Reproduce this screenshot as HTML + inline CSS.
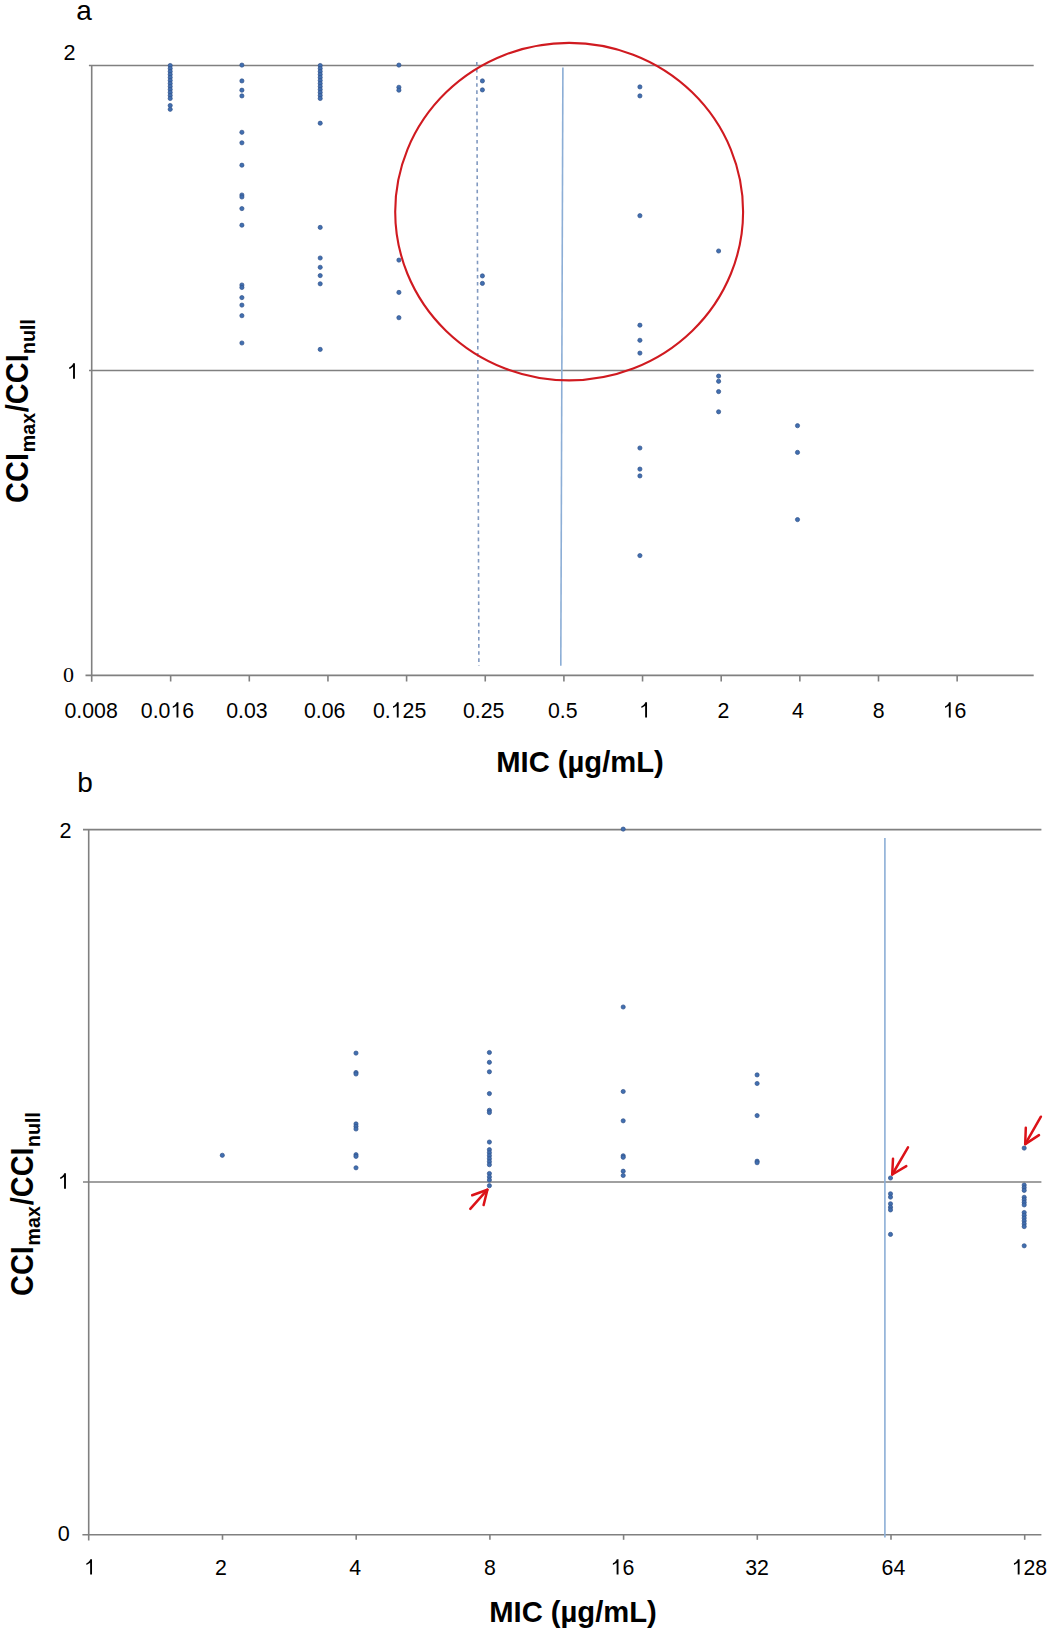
<!DOCTYPE html>
<html><head><meta charset="utf-8"><style>
html,body{margin:0;padding:0;background:#fff;}
body{width:1050px;height:1636px;overflow:hidden;}
svg{display:block;}
text{font-family:"Liberation Sans",sans-serif;fill:#000;}
</style></head><body>
<svg width="1050" height="1636" viewBox="0 0 1050 1636">
<rect width="1050" height="1636" fill="#fff"/>
<g stroke="#808080" stroke-width="1.6" fill="none">
<line x1="88.9" y1="65.5" x2="1033.7" y2="65.5"/>
<line x1="89" y1="370.5" x2="1033.7" y2="370.5"/>
<line x1="85.5" y1="675.4" x2="1033.7" y2="675.4"/>
<line x1="91.7" y1="65.5" x2="91.7" y2="681.7"/>
<line x1="170.65" y1="675.4" x2="170.65" y2="681.5"/>
<line x1="249.3" y1="675.4" x2="249.3" y2="681.5"/>
<line x1="327.95" y1="675.4" x2="327.95" y2="681.5"/>
<line x1="406.6" y1="675.4" x2="406.6" y2="681.5"/>
<line x1="485.25" y1="675.4" x2="485.25" y2="681.5"/>
<line x1="563.9" y1="675.4" x2="563.9" y2="681.5"/>
<line x1="642.55" y1="675.4" x2="642.55" y2="681.5"/>
<line x1="721.2" y1="675.4" x2="721.2" y2="681.5"/>
<line x1="799.85" y1="675.4" x2="799.85" y2="681.5"/>
<line x1="878.5" y1="675.4" x2="878.5" y2="681.5"/>
<line x1="957.15" y1="675.4" x2="957.15" y2="681.5"/>
<line x1="83" y1="829.6" x2="1041.4" y2="829.6"/>
<line x1="83" y1="1182" x2="1041.4" y2="1182"/>
<line x1="82.4" y1="1534.7" x2="1041.4" y2="1534.7"/>
<line x1="88.7" y1="829.6" x2="88.7" y2="1540.5"/>
<line x1="222.5" y1="1534.7" x2="222.5" y2="1539.8"/>
<line x1="356.2" y1="1534.7" x2="356.2" y2="1539.8"/>
<line x1="489.9" y1="1534.7" x2="489.9" y2="1539.8"/>
<line x1="623.6" y1="1534.7" x2="623.6" y2="1539.8"/>
<line x1="757.3" y1="1534.7" x2="757.3" y2="1539.8"/>
<line x1="891.0" y1="1534.7" x2="891.0" y2="1539.8"/>
<line x1="1024.7" y1="1534.7" x2="1024.7" y2="1539.8"/>
</g>
<g stroke="#8CAED6" stroke-width="1.6" fill="none">
<line x1="476.8" y1="61.9" x2="478.9" y2="666" stroke-dasharray="3.6 3.5" stroke="#8199C0"/>
<line x1="562.9" y1="67.6" x2="560.8" y2="665.7"/>
<line x1="884.9" y1="837.9" x2="884.9" y2="1537.5"/>
</g>
<g fill="#416FB0" stroke="#30518A" stroke-width="0.7">
<circle cx="170.2" cy="65.5" r="2.1"/>
<circle cx="170.2" cy="68.5" r="2.1"/>
<circle cx="170.2" cy="71.5" r="2.1"/>
<circle cx="170.2" cy="74.5" r="2.1"/>
<circle cx="170.2" cy="77.5" r="2.1"/>
<circle cx="170.2" cy="80.5" r="2.1"/>
<circle cx="170.2" cy="83.5" r="2.1"/>
<circle cx="170.2" cy="86.5" r="2.1"/>
<circle cx="170.2" cy="89.5" r="2.1"/>
<circle cx="170.2" cy="92.5" r="2.1"/>
<circle cx="170.2" cy="95.5" r="2.1"/>
<circle cx="170.2" cy="98.5" r="2.1"/>
<circle cx="170.2" cy="105.5" r="2.1"/>
<circle cx="170.2" cy="109.3" r="2.1"/>
<circle cx="241.9" cy="65.1" r="2.1"/>
<circle cx="241.9" cy="80.9" r="2.1"/>
<circle cx="241.9" cy="90.2" r="2.1"/>
<circle cx="241.9" cy="95.9" r="2.1"/>
<circle cx="241.9" cy="132.3" r="2.1"/>
<circle cx="241.9" cy="142.8" r="2.1"/>
<circle cx="241.9" cy="165.2" r="2.1"/>
<circle cx="241.9" cy="195" r="2.1"/>
<circle cx="241.9" cy="197" r="2.1"/>
<circle cx="241.9" cy="208.6" r="2.1"/>
<circle cx="241.9" cy="225.2" r="2.1"/>
<circle cx="241.9" cy="285" r="2.1"/>
<circle cx="241.9" cy="287.5" r="2.1"/>
<circle cx="241.9" cy="297.6" r="2.1"/>
<circle cx="241.9" cy="305.1" r="2.1"/>
<circle cx="241.9" cy="315.7" r="2.1"/>
<circle cx="241.9" cy="343" r="2.1"/>
<circle cx="320.2" cy="65.5" r="2.1"/>
<circle cx="320.2" cy="68.5" r="2.1"/>
<circle cx="320.2" cy="71.5" r="2.1"/>
<circle cx="320.2" cy="74.5" r="2.1"/>
<circle cx="320.2" cy="77.5" r="2.1"/>
<circle cx="320.2" cy="80.5" r="2.1"/>
<circle cx="320.2" cy="83.5" r="2.1"/>
<circle cx="320.2" cy="86.5" r="2.1"/>
<circle cx="320.2" cy="89.5" r="2.1"/>
<circle cx="320.2" cy="92.5" r="2.1"/>
<circle cx="320.2" cy="95.5" r="2.1"/>
<circle cx="320.2" cy="98.5" r="2.1"/>
<circle cx="320.2" cy="123.2" r="2.1"/>
<circle cx="320.2" cy="227.4" r="2.1"/>
<circle cx="320.2" cy="258" r="2.1"/>
<circle cx="320.2" cy="267.3" r="2.1"/>
<circle cx="320.2" cy="275.6" r="2.1"/>
<circle cx="320.2" cy="283.8" r="2.1"/>
<circle cx="320.2" cy="349.4" r="2.1"/>
<circle cx="398.9" cy="65.1" r="2.1"/>
<circle cx="398.9" cy="87.3" r="2.1"/>
<circle cx="398.9" cy="90.2" r="2.1"/>
<circle cx="398.9" cy="260.1" r="2.1"/>
<circle cx="398.9" cy="292.4" r="2.1"/>
<circle cx="398.9" cy="317.7" r="2.1"/>
<circle cx="482.4" cy="80.9" r="2.1"/>
<circle cx="482.4" cy="89.9" r="2.1"/>
<circle cx="482.4" cy="275.9" r="2.1"/>
<circle cx="482.4" cy="283.4" r="2.1"/>
<circle cx="639.9" cy="86.9" r="2.1"/>
<circle cx="639.9" cy="95.9" r="2.1"/>
<circle cx="639.9" cy="215.7" r="2.1"/>
<circle cx="639.9" cy="325.2" r="2.1"/>
<circle cx="639.9" cy="340.3" r="2.1"/>
<circle cx="639.9" cy="353.1" r="2.1"/>
<circle cx="639.9" cy="448" r="2.1"/>
<circle cx="639.9" cy="469.1" r="2.1"/>
<circle cx="639.9" cy="475.9" r="2.1"/>
<circle cx="639.9" cy="555.6" r="2.1"/>
<circle cx="718.6" cy="251" r="2.1"/>
<circle cx="718.6" cy="376.1" r="2.1"/>
<circle cx="718.6" cy="381.3" r="2.1"/>
<circle cx="718.6" cy="391.6" r="2.1"/>
<circle cx="718.6" cy="411.8" r="2.1"/>
<circle cx="797.5" cy="425.7" r="2.1"/>
<circle cx="797.5" cy="452.4" r="2.1"/>
<circle cx="797.5" cy="519.6" r="2.1"/>
<circle cx="222.3" cy="1155.3" r="2.1"/>
<circle cx="356.0" cy="1053.1" r="2.1"/>
<circle cx="356.0" cy="1072.5" r="2.1"/>
<circle cx="356.0" cy="1074" r="2.1"/>
<circle cx="356.0" cy="1123.9" r="2.1"/>
<circle cx="356.0" cy="1126.4" r="2.1"/>
<circle cx="356.0" cy="1129" r="2.1"/>
<circle cx="356.0" cy="1154.7" r="2.1"/>
<circle cx="356.0" cy="1156.4" r="2.1"/>
<circle cx="356.0" cy="1167.8" r="2.1"/>
<circle cx="489.4" cy="1052.5" r="2.1"/>
<circle cx="489.4" cy="1062.3" r="2.1"/>
<circle cx="489.4" cy="1071.8" r="2.1"/>
<circle cx="489.4" cy="1093.6" r="2.1"/>
<circle cx="489.4" cy="1110.3" r="2.1"/>
<circle cx="489.4" cy="1112.6" r="2.1"/>
<circle cx="489.4" cy="1142.05" r="2.1"/>
<circle cx="489.4" cy="1149.7" r="2.1"/>
<circle cx="489.4" cy="1152.7" r="2.1"/>
<circle cx="489.4" cy="1155.7" r="2.1"/>
<circle cx="489.4" cy="1158.7" r="2.1"/>
<circle cx="489.4" cy="1161.7" r="2.1"/>
<circle cx="489.4" cy="1164.7" r="2.1"/>
<circle cx="489.4" cy="1173.5" r="2.1"/>
<circle cx="489.4" cy="1176.9" r="2.1"/>
<circle cx="489.4" cy="1180" r="2.1"/>
<circle cx="489.4" cy="1185.7" r="2.1"/>
<circle cx="623.2" cy="829.1" r="2.1"/>
<circle cx="623.2" cy="1007" r="2.1"/>
<circle cx="623.2" cy="1091.5" r="2.1"/>
<circle cx="623.2" cy="1120.8" r="2.1"/>
<circle cx="623.2" cy="1155.8" r="2.1"/>
<circle cx="623.2" cy="1157.3" r="2.1"/>
<circle cx="623.2" cy="1171.2" r="2.1"/>
<circle cx="623.2" cy="1175.5" r="2.1"/>
<circle cx="757.1" cy="1074.9" r="2.1"/>
<circle cx="757.1" cy="1083.5" r="2.1"/>
<circle cx="757.1" cy="1115.6" r="2.1"/>
<circle cx="757.1" cy="1161.2" r="2.1"/>
<circle cx="757.1" cy="1162.7" r="2.1"/>
<circle cx="890.5" cy="1178" r="2.1"/>
<circle cx="890.5" cy="1193.8" r="2.1"/>
<circle cx="890.5" cy="1197.1" r="2.1"/>
<circle cx="890.5" cy="1203.8" r="2.1"/>
<circle cx="890.5" cy="1207.2" r="2.1"/>
<circle cx="890.5" cy="1209.9" r="2.1"/>
<circle cx="890.5" cy="1234.4" r="2.1"/>
<circle cx="1024.2" cy="1148.1" r="2.1"/>
<circle cx="1024.2" cy="1185.1" r="2.1"/>
<circle cx="1024.2" cy="1187.7" r="2.1"/>
<circle cx="1024.2" cy="1190.4" r="2.1"/>
<circle cx="1024.2" cy="1197.3" r="2.1"/>
<circle cx="1024.2" cy="1199.8" r="2.1"/>
<circle cx="1024.2" cy="1202.4" r="2.1"/>
<circle cx="1024.2" cy="1204.9" r="2.1"/>
<circle cx="1024.2" cy="1212.5" r="2.1"/>
<circle cx="1024.2" cy="1215.3" r="2.1"/>
<circle cx="1024.2" cy="1218.1" r="2.1"/>
<circle cx="1024.2" cy="1220.9" r="2.1"/>
<circle cx="1024.2" cy="1223.8" r="2.1"/>
<circle cx="1024.2" cy="1226.6" r="2.1"/>
<circle cx="1024.2" cy="1245.8" r="2.1"/>
</g>
<ellipse cx="569.15" cy="211.65" rx="173.95" ry="168.75" fill="none" stroke="#D01A20" stroke-width="2.1"/>
<g stroke="#DC1218" stroke-width="2.5" fill="none" stroke-linecap="round" stroke-linejoin="round">
<line x1="470.3" y1="1208.9" x2="487.4" y2="1189.7"/><polyline points="472.2,1195.2 487.4,1189.7 483.6,1205.1"/>
<line x1="908" y1="1147.4" x2="892.2" y2="1174.5"/><polyline points="893,1158.7 892.2,1174.5 906.3,1166.1"/>
<line x1="1040.9" y1="1116.7" x2="1025.2" y2="1144.1"/><polyline points="1025.8,1127.7 1025.2,1144.1 1039,1135.1"/>
</g>
<g font-size="28">
<text x="76.3" y="20.3">a</text>
<text x="77.2" y="791.9">b</text>
</g>
<g>
<text x="63.49" y="60.2" font-size="21.6">2</text>
<path transform="translate(66.90,378.8) scale(0.02160)" d="M372.6 0H284.7V-560.1L252.9-529.8L152.3-470.7L108.9-451.2V-536.1L183.1-570.8L238.8-623L274.9-675.3L289.6-715.8H372.6Z"/>
<text x="74.1" y="682.4" text-anchor="end" style="font-family:'Liberation Serif',serif;font-size:22px">0</text>
<text x="59.49" y="837.6" font-size="21.6">2</text>
<path transform="translate(57.90,1188.8) scale(0.02160)" d="M372.6 0H284.7V-560.1L252.9-529.8L152.3-470.7L108.9-451.2V-536.1L183.1-570.8L238.8-623L274.9-675.3L289.6-715.8H372.6Z"/>
<text x="57.79" y="1540.7" font-size="21.6">0</text>
</g>
<g>
<text x="64.45" y="717.6" font-size="21.3">0.008</text>
<text x="140.85" y="717.6" font-size="21.3">0.0</text><path transform="translate(170.46,717.6) scale(0.02130)" d="M372.6 0H284.7V-560.1L252.9-529.8L152.3-470.7L108.9-451.2V-536.1L183.1-570.8L238.8-623L274.9-675.3L289.6-715.8H372.6Z"/><text x="182.30" y="717.6" font-size="21.3">6</text>
<text x="226.28" y="717.6" font-size="21.3">0.03</text>
<text x="303.88" y="717.6" font-size="21.3">0.06</text>
<text x="372.95" y="717.6" font-size="21.3">0.</text><path transform="translate(390.72,717.6) scale(0.02130)" d="M372.6 0H284.7V-560.1L252.9-529.8L152.3-470.7L108.9-451.2V-536.1L183.1-570.8L238.8-623L274.9-675.3L289.6-715.8H372.6Z"/><text x="402.56" y="717.6" font-size="21.3">25</text>
<text x="462.98" y="717.6" font-size="21.3">0.25</text>
<text x="547.90" y="717.6" font-size="21.3">0.5</text>
<path transform="translate(639.08,717.6) scale(0.02130)" d="M372.6 0H284.7V-560.1L252.9-529.8L152.3-470.7L108.9-451.2V-536.1L183.1-570.8L238.8-623L274.9-675.3L289.6-715.8H372.6Z"/>
<text x="717.38" y="717.6" font-size="21.3">2</text>
<text x="791.98" y="717.6" font-size="21.3">4</text>
<text x="872.68" y="717.6" font-size="21.3">8</text>
<path transform="translate(942.76,717.6) scale(0.02130)" d="M372.6 0H284.7V-560.1L252.9-529.8L152.3-470.7L108.9-451.2V-536.1L183.1-570.8L238.8-623L274.9-675.3L289.6-715.8H372.6Z"/><text x="954.60" y="717.6" font-size="21.3">6</text>
<path transform="translate(84.08,1574.6) scale(0.02130)" d="M372.6 0H284.7V-560.1L252.9-529.8L152.3-470.7L108.9-451.2V-536.1L183.1-570.8L238.8-623L274.9-675.3L289.6-715.8H372.6Z"/>
<text x="214.98" y="1574.6" font-size="21.3">2</text>
<text x="349.18" y="1574.6" font-size="21.3">4</text>
<text x="484.08" y="1574.6" font-size="21.3">8</text>
<path transform="translate(610.56,1574.6) scale(0.02130)" d="M372.6 0H284.7V-560.1L252.9-529.8L152.3-470.7L108.9-451.2V-536.1L183.1-570.8L238.8-623L274.9-675.3L289.6-715.8H372.6Z"/><text x="622.40" y="1574.6" font-size="21.3">6</text>
<text x="745.16" y="1574.6" font-size="21.3">32</text>
<text x="881.56" y="1574.6" font-size="21.3">64</text>
<path transform="translate(1011.64,1574.6) scale(0.02130)" d="M372.6 0H284.7V-560.1L252.9-529.8L152.3-470.7L108.9-451.2V-536.1L183.1-570.8L238.8-623L274.9-675.3L289.6-715.8H372.6Z"/><text x="1023.48" y="1574.6" font-size="21.3">28</text>
</g>
<g font-size="29.2" font-weight="bold" text-anchor="middle">
<text x="580" y="771.5">MIC (µg/mL)</text>
<text x="573" y="1622">MIC (µg/mL)</text>
</g>
<g transform="translate(28.0,501.7) rotate(-90)"><text transform="translate(-1.19,0) scale(0.94,1)" font-size="30.8" font-weight="bold">CCI</text><text x="49.4" y="6.9" font-size="19.7" font-weight="bold">max</text><text transform="translate(89.51,0) scale(0.94,1)" font-size="30.8" font-weight="bold">/CCI</text><text x="147.7" y="6.9" font-size="19.7" font-weight="bold">null</text></g>
<g transform="translate(33.2,1294.8) rotate(-90)"><text transform="translate(-1.19,0) scale(0.94,1)" font-size="30.8" font-weight="bold">CCI</text><text x="49.4" y="6.9" font-size="19.7" font-weight="bold">max</text><text transform="translate(89.51,0) scale(0.94,1)" font-size="30.8" font-weight="bold">/CCI</text><text x="147.7" y="6.9" font-size="19.7" font-weight="bold">null</text></g>
</svg>
</body></html>
